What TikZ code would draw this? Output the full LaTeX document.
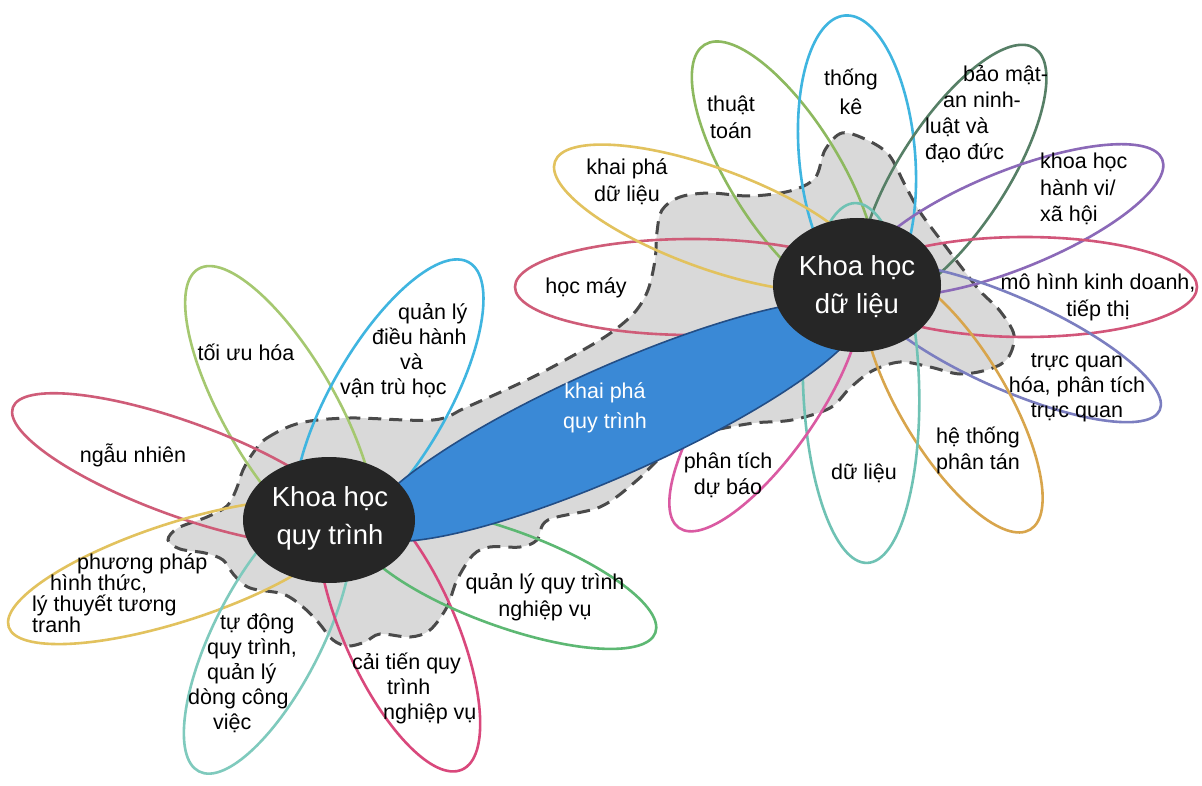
\documentclass[tikz,border=0pt]{standalone}
\usepackage{fontspec}
\setmainfont{Liberation Sans}
\usetikzlibrary{shapes.geometric}

\definecolor{hubfill}{HTML}{262626}
\definecolor{blobfill}{HTML}{D9D9D9}
\definecolor{blobline}{HTML}{4A4A4A}
\definecolor{bandfill}{HTML}{3A89D6}
\definecolor{bandline}{HTML}{234E86}
\definecolor{cLime}{HTML}{A5C870}
\definecolor{cCyan}{HTML}{3FB5E0}
\definecolor{cRed}{HTML}{CF5C78}
\definecolor{cGold}{HTML}{E2C25E}
\definecolor{cTeal}{HTML}{7FCABD}
\definecolor{cPink}{HTML}{D9487C}
\definecolor{cGreen}{HTML}{5DB873}
\definecolor{cOlive}{HTML}{8DB95F}
\definecolor{cSlate}{HTML}{567F66}
\definecolor{cPurple}{HTML}{8B69B8}
\definecolor{cRose}{HTML}{D2567A}
\definecolor{cIndigo}{HTML}{7B7EC0}
\definecolor{cAmber}{HTML}{D8A54C}
\definecolor{cMint}{HTML}{6FC2B4}
\definecolor{cMagenta}{HTML}{DA5AA2}

\begin{document}
\begin{tikzpicture}[x=1pt,y=-1pt,
  petal/.style={ellipse, line width=2.6pt, inner sep=0pt, outer sep=0pt},
  hub/.style={ellipse, fill=hubfill, inner sep=0pt, text=white, align=center,
    font=\fontsize{27.5}{38}\selectfont},
  lbl/.style={inner sep=0pt, text=black, align=center,
    font=\fontsize{21.5}{25}\selectfont},
  blob/.style={fill=blobfill, draw=blobline, line width=3pt,
    dash pattern=on 13pt off 8pt},
  band/.style={ellipse, fill=bandfill, draw=bandline, line width=1.6pt,
    inner sep=0pt, outer sep=0pt}]
\useasboundingbox (0,0) rectangle (1202,786);
\fill[white] (0,0) rectangle (1202,786);

% shared grey area behind both hubs
\draw[blob] plot[smooth cycle, tension=0.55] coordinates {
  (253,453) (267,438) (300,423) (350,418) (433,420) (467,407) (533,377)
  (583,350) (612,332) (635,312) (648,290) (655,260) (657,232) (662,210)
  (680,197) (710,193) (750,196) (790,191) (815,178) (825,150) (842,133)
  (867,140) (889,155) (905,185) (920,212) (943,243) (962,268) (980,291)
  (1000,311) (1014,335) (1008,358) (990,369) (960,374) (930,367) (900,362)
  (872,371) (850,388) (830,408) (792,420) (754,423) (715,430) (684,438)
  (661,457) (635,482) (600,507) (548,520) (537,540) (520,547) (490,547)
  (473,555) (457,580) (447,607) (430,630) (410,637) (380,634) (365,642)
  (348,646) (333,640) (318,622) (303,607) (283,594) (250,588) (234,575)
  (223,560) (205,553) (180,549) (168,540) (178,528) (207,517) (227,506)
  (236,490) (243,470)};

% petals around "Khoa học quy trình"
\node[petal, draw=cLime,  minimum width=326pt, minimum height=112pt, rotate=120] (pToiUu)     at (280,410) {};
\node[petal, draw=cCyan,  minimum width=320pt, minimum height=116pt, rotate=60]  (pDieuHanh)  at (389,401) {};
\node[petal, draw=cRed,   minimum width=360pt, minimum height=94pt,  rotate=-20] (pNgauNhien) at (182,469) {};
\node[petal, draw=cGold,  minimum width=356pt, minimum height=98pt,  rotate=18]  (pHinhThuc)  at (178,572) {};
\node[petal, draw=cTeal,  minimum width=304pt, minimum height=108pt, rotate=63]  (pTuDong)    at (268,636) {};
\node[petal, draw=cPink,  minimum width=310pt, minimum height=112pt, rotate=-66] (pCaiTien)   at (399,628) {};
\node[petal, draw=cGreen, minimum width=320pt, minimum height=96pt,  rotate=-20] (pNghiepVu)  at (505,578) {};

% petals around "Khoa học dữ liệu"
\node[petal, draw=cOlive,   minimum width=300pt, minimum height=110pt, rotate=122] (pThuatToan) at (784,172) {};
\node[petal, draw=cCyan,    minimum width=280pt, minimum height=116pt, rotate=95]  (pThongKe)   at (857,155) {};
\node[petal, draw=cSlate,   minimum width=300pt, minimum height=108pt, rotate=57]  (pBaoMat)    at (953,174) {};
\node[petal, draw=cPurple,  minimum width=324pt, minimum height=98pt,  rotate=22]  (pHanhVi)    at (1012,220) {};
\node[petal, draw=cRose,    minimum width=344pt, minimum height=100pt, rotate=0]   (pKinhDoanh) at (1025,287) {};
\node[petal, draw=cIndigo,  minimum width=330pt, minimum height=92pt,  rotate=-24] (pTrucQuan)  at (1009,343) {};
\node[petal, draw=cAmber,   minimum width=300pt, minimum height=106pt, rotate=-59] (pPhanTan)   at (953,401) {};
\node[petal, draw=cMint,    minimum width=360pt, minimum height=116pt, rotate=92]  (pDuLieu)    at (861,383) {};
\node[petal, draw=cMagenta, minimum width=300pt, minimum height=102pt, rotate=55]  (pDuBao)     at (765,405) {};
\node[petal, draw=cRed,     minimum width=354pt, minimum height=96pt,  rotate=0]   (pHocMay)    at (692,287) {};
\node[petal, draw=cGold,    minimum width=330pt, minimum height=100pt, rotate=-20] (pKhaiPhaDL) at (710,218) {};

% blue band joining the two hubs
\node[band, minimum width=540pt, minimum height=108pt, rotate=24] (band) at (614,421) {};
\node[lbl, text=white, font=\fontsize{21.5}{30}\selectfont] (tBand) at (605,408) {khai phá\\quy trình};

% hubs
\node[hub, minimum width=172pt, minimum height=126pt] (hubQT) at (329,520) {};
\node[hub, minimum width=168pt, minimum height=134pt] (hubDL) at (857,285) {};
\node[hub, fill=none] (tHubQT) at (330,518) {Khoa học\\quy trình};
\node[hub, fill=none] (tHubDL) at (857,287) {Khoa học\\dữ liệu};

% labels, left flower
\node[lbl] (tNgauNhien) at (133,455) {ngẫu nhiên};
\node[lbl] (tToiUu) at (246,352) {tối ưu hóa};
\node[lbl, align=left, anchor=west] (tDieuHanh) at (340,351)
  {\hspace*{58pt}quản lý\\\hspace*{32pt}điều hành\\\hspace*{60pt}và\\vận trù học};
\node[lbl, align=left, anchor=west, font=\fontsize{21.5}{21}\selectfont] (tHinhThuc) at (32,593)
  {\hspace*{45pt}phương pháp\\\hspace*{18pt}hình thức,\\lý thuyết tương\\tranh};
\node[lbl, align=left, anchor=west] (tTuDong) at (188,673)
  {\hspace*{32pt}tự động\\\hspace*{19pt}quy trình,\\\hspace*{19pt}quản lý\\dòng công\\\hspace*{25pt}việc};
\node[lbl, align=left, anchor=west] (tCaiTien) at (352,688)
  {cải tiến quy\\\hspace*{35pt}trình\\\hspace*{31pt}nghiệp vụ};
\node[lbl, font=\fontsize{21.5}{27}\selectfont] (tNghiepVu) at (545,597) {quản lý quy trình\\nghiệp vụ};

% labels, right flower
\node[lbl, font=\fontsize{21.5}{27}\selectfont] (tThuatToan) at (731,117) {thuật\\toán};
\node[lbl, font=\fontsize{21.5}{29}\selectfont] (tThongKe) at (851,92) {thống\\kê};
\node[lbl, align=left, anchor=west, font=\fontsize{21.5}{26}\selectfont] (tBaoMat) at (925,114)
  {\hspace*{38pt}bảo mật-\\\hspace*{18pt}an ninh-\\luật và\\đạo đức};
\node[lbl, align=left, anchor=west, font=\fontsize{21.5}{26.5}\selectfont] (tHanhVi) at (1040,189)
  {khoa học\\hành vi/\\xã hội};
\node[lbl, font=\fontsize{21.5}{27}\selectfont] (tKinhDoanh) at (1098,297) {mô hình kinh doanh,\\tiếp thị};
\node[lbl] (tTrucQuan) at (1077,388) {trực quan\\hóa, phân tích\\trực quan};
\node[lbl, font=\fontsize{21.5}{26}\selectfont] (tPhanTan) at (978,450) {hệ thống\\phân tán};
\node[lbl] (tDuLieu) at (864,473) {dữ liệu};
\node[lbl, font=\fontsize{21.5}{26}\selectfont] (tDuBao) at (728,475) {phân tích\\dự báo};
\node[lbl] (tHocMay) at (586,288) {học máy};
\node[lbl, font=\fontsize{21.5}{27}\selectfont] (tKhaiPhaDL) at (627,182) {khai phá\\dữ liệu};
\end{tikzpicture}
\end{document}
